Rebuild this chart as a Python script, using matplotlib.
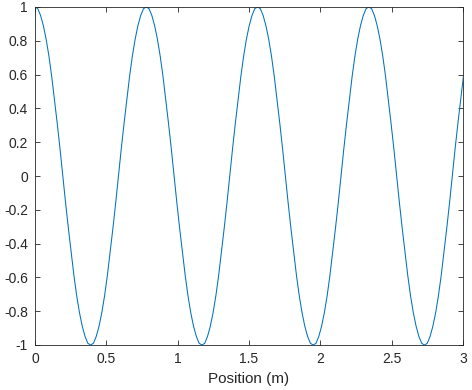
import numpy as np
import matplotlib
matplotlib.use("Agg")
import matplotlib.pyplot as plt

plt.rcParams['font.family'] = ['Liberation Sans', 'DejaVu Sans']
plt.rcParams['axes.unicode_minus'] = False

# Valores (paso de 0.0195 m)
paso_x = 0.0195
amplitud = [
    1.00, 0.99, 0.95, 0.89, 0.81, 0.71, 0.59, 0.45, 0.31, 0.16,
    0.00, -0.16, -0.31, -0.45, -0.59, -0.71, -0.81, -0.89, -0.95, -0.99,
    -1.00, -0.99, -0.95, -0.89, -0.81, -0.71, -0.59, -0.45, -0.31, -0.16,
    0.00, 0.16, 0.31, 0.45, 0.59, 0.71, 0.81, 0.89, 0.95, 0.99,
    1.00, 0.99, 0.95, 0.89, 0.81, 0.71, 0.59, 0.45, 0.31, 0.16,
    0.00, -0.16, -0.31, -0.45, -0.59, -0.71, -0.81, -0.89, -0.95, -0.99,
    -1.00, -0.99, -0.95, -0.89, -0.81, -0.71, -0.59, -0.45, -0.31, -0.16,
    0.00, 0.16, 0.31, 0.45, 0.59, 0.71, 0.81, 0.89, 0.95, 0.99,
    1.00, 0.99, 0.95, 0.89, 0.81, 0.71, 0.59, 0.45, 0.31, 0.16,
    0.00, -0.16, -0.31, -0.45, -0.59, -0.71, -0.81, -0.89, -0.95, -0.99,
    -1.00, -0.99, -0.95, -0.89, -0.81, -0.71, -0.59, -0.45, -0.31, -0.16,
    0.00, 0.16, 0.31, 0.45, 0.59, 0.71, 0.81, 0.89, 0.95, 0.99,
    1.00, 0.99, 0.95, 0.89, 0.81, 0.71, 0.59, 0.45, 0.31, 0.16,
    0.00, -0.16, -0.31, -0.45, -0.59, -0.71, -0.81, -0.89, -0.95, -0.99,
    -1.00, -0.99, -0.95, -0.89, -0.81, -0.71, -0.59, -0.45, -0.31, -0.16,
    0.00, 0.16, 0.31, 0.45, 0.59,
]
posicion = np.arange(len(amplitud)) * paso_x

xticks = [0, 0.5, 1, 1.5, 2, 2.5, 3]
xtick_labels = ['0', '0.5', '1', '1.5', '2', '2.5', '3']
yticks = [-1, -0.8, -0.6, -0.4, -0.2, 0, 0.2, 0.4, 0.6, 0.8, 1]
ytick_labels = ['-1', '-0.8', '-0.6', '-0.4', '-0.2', '0', '0.2', '0.4', '0.6', '0.8', '1']

gris = '#262626'

fig = plt.figure(figsize=(4.72, 3.90), dpi=100)
ax = fig.add_axes([35 / 472, 1 - 345 / 390, 428 / 472, 338 / 390])
ax.plot(posicion, amplitud, color='#0072BD', linewidth=0.75)
ax.set_xlim(0, 3)
ax.set_ylim(-1, 1)
ax.set_xticks(xticks)
ax.set_xticklabels(xtick_labels)
ax.set_yticks(yticks)
ax.set_yticklabels(ytick_labels)
ax.tick_params(direction='in', length=3.6, width=0.6, colors=gris,
               labelsize=10, top=True, right=True, pad=5)
for s in ax.spines.values():
    s.set_color(gris)
    s.set_linewidth(0.6)
ax.set_xlabel('Position (m)', fontsize=11, color=gris, labelpad=4)

fig.savefig('out.png', dpi=100)
